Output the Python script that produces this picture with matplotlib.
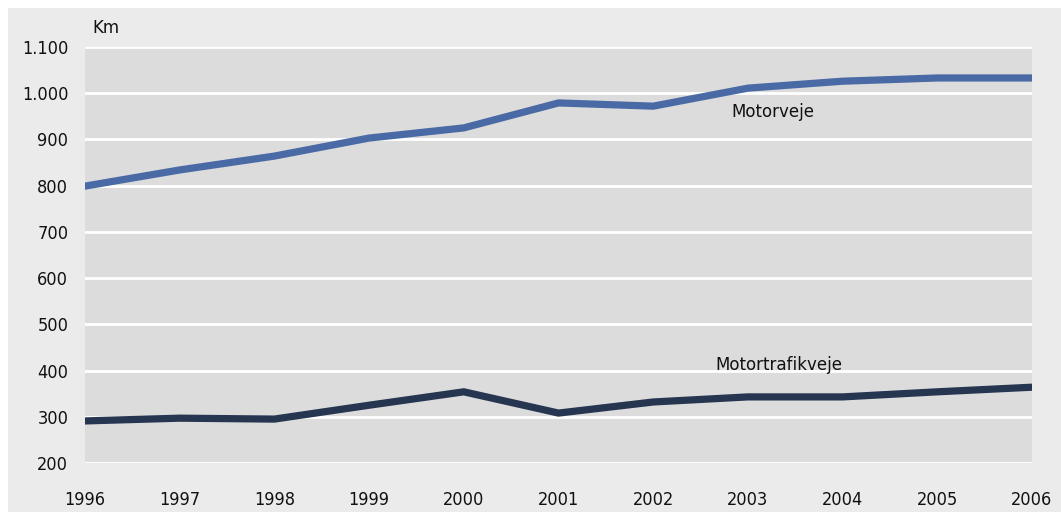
import matplotlib.pyplot as plt
from matplotlib.patches import Rectangle

plt.rcParams['font.family'] = ['DejaVu Sans']
plt.rcParams['font.stretch'] = 'condensed'

years = [1996, 1997, 1998, 1999, 2000, 2001, 2002, 2003, 2004, 2005, 2006]
motorveje = [799, 834, 864, 903, 925, 979, 972, 1011, 1026, 1033, 1033]
motortrafikveje = [291, 297, 295, 325, 354, 308, 332, 343, 343, 354, 364]
yticks = [200, 300, 400, 500, 600, 700, 800, 900, 1000, 1100]
ytick_labels = ['200', '300', '400', '500', '600', '700', '800', '900', '1.000', '1.100']

W, H = 1061, 512
fig = plt.figure(figsize=(W / 100, H / 100), dpi=100)
fig.patches.append(Rectangle((8 / W, 0), 1 - 8 / W, 1 - 8 / H, transform=fig.transFigure,
                             facecolor='#ebebeb', edgecolor='none', zorder=-10))

ax = fig.add_axes([85 / W, 1 - 463 / H, (1032 - 85) / W, (463 - 47) / H])
ax.set_facecolor('#dcdcdc')

ax.plot(years, motorveje, color='#4a6aa5', lw=5.2, solid_joinstyle='miter', zorder=3)
ax.plot(years, motortrafikveje, color='#263550', lw=5.2, solid_joinstyle='miter', zorder=3)

ax.text(2002.83, 959, 'Motorveje', fontsize=13.3, va='center', ha='left', color='#111111')
ax.text(2002.66, 412, 'Motortrafikveje', fontsize=13.3, va='center', ha='left', color='#111111')

ax.set_xlim(1996, 2006)
ax.set_ylim(200, 1100)
ax.set_xticks(years)
ax.set_xticklabels([str(y) for y in years], fontsize=13)
ax.set_yticks(yticks)
ax.set_yticklabels(ytick_labels, fontsize=13)
ax.tick_params(length=0, pad=12, labelcolor='#111111')
ax.tick_params(axis='x', pad=20)
ax.grid(axis='y', color='white', lw=2)
ax.set_axisbelow(True)
for s in ax.spines.values():
    s.set_visible(False)

fig.text(92 / W, 1 - 28 / H, 'Km', fontsize=13.3, va='center', ha='left', color='#111111')

fig.savefig('out.png', dpi=100)
